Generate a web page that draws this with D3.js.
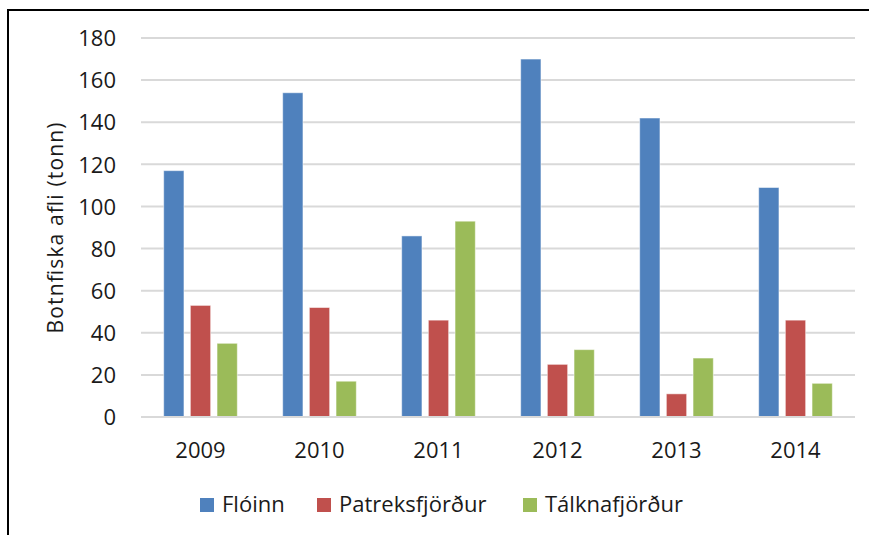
<!DOCTYPE html>
<html>
<head>
<meta charset="utf-8">
<script src="https://cdn.jsdelivr.net/npm/d3@7"></script>
<style>
  html, body { margin: 0; padding: 0; background: #fff; }
  svg { display: block; }
  text { font-family: "Open Sans", "DejaVu Sans", sans-serif; fill: #1a1a1a; }
</style>
</head>
<body>
<svg id="chart" width="869" height="535"></svg>
<script>
const years = ["2009", "2010", "2011", "2012", "2013", "2014"];
const seriesNames = ["Flóinn", "Patreksfjörður", "Tálknafjörður"];
const floinn = [117, 154, 86, 170, 142, 109];
const patreksfjordur = [53, 52, 46, 25, 11, 46];
const talknafjordur = [35, 17, 93, 32, 28, 16];
const yTicks = [0, 20, 40, 60, 80, 100, 120, 140, 160, 180];
const colors = ["#4f81bd", "#c0504d", "#9bbb59"];
const yTitle = "Botnfiska afli (tonn)";

const seriesValues = [floinn, patreksfjordur, talknafjordur];
const svg = d3.select("#chart");

// frame
svg.append("rect").attr("x", 8).attr("y", 10).attr("width", 900).attr("height", 600)
  .attr("fill", "none").attr("stroke", "#000").attr("stroke-width", 2);

const pLeft = 141, pRight = 855, pTop = 38, pBottom = 417;
const x = d3.scaleBand().domain(years).range([pLeft, pRight]).paddingInner(0).paddingOuter(0);
const xs = d3.scaleBand().domain(seriesNames).range([0, x.bandwidth()]).paddingInner(0.24).paddingOuter(0.85);
const y = d3.scaleLinear().domain([0, 180]).range([pBottom, pTop]);

// gridlines
svg.append("g").selectAll("line").data(yTicks).join("line")
  .attr("x1", pLeft).attr("x2", pRight)
  .attr("y1", d => y(d)).attr("y2", d => y(d))
  .attr("stroke", "#d9d9d9").attr("stroke-width", 2);

// y axis labels
const yAxis = d3.axisLeft(y).tickValues(yTicks).tickSize(0).tickPadding(0);
const gy = svg.append("g").attr("transform", "translate(116,0)").call(yAxis);
gy.select(".domain").remove();
gy.selectAll("text").attr("font-size", 22).attr("dy", "0.35em")
  .style("font-family", "'Open Sans', sans-serif").attr("fill", "#1a1a1a");

// bars
const groups = svg.append("g").selectAll("g").data(years).join("g")
  .attr("transform", d => `translate(${x(d)},0)`);
groups.selectAll("rect")
  .data((d, i) => seriesNames.map((s, j) => ({ s, v: seriesValues[j][i], c: colors[j] })))
  .join("rect")
  .attr("x", d => xs(d.s)).attr("width", xs.bandwidth())
  .attr("y", d => y(d.v)).attr("height", d => y(0) - y(d.v))
  .attr("fill", d => d.c)
  .attr("stroke", "rgba(255,255,255,0.5)").attr("stroke-width", 1);

// baseline
svg.append("line").attr("x1", pLeft).attr("x2", pRight).attr("y1", pBottom).attr("y2", pBottom)
  .attr("stroke", "#d9d9d9").attr("stroke-width", 2);

// x axis labels
const xAxis = d3.axisBottom(x).tickSize(0).tickPadding(0);
const gx = svg.append("g").attr("transform", `translate(0,${pBottom + 33})`).call(xAxis);
gx.select(".domain").remove();
gx.selectAll("text").attr("font-size", 22).attr("dy", "0.35em")
  .style("font-family", "'Open Sans', sans-serif").attr("fill", "#1a1a1a");

// y title
svg.append("text").attr("transform", "translate(56,228) rotate(-90)")
  .attr("text-anchor", "middle").attr("dy", "0.35em").attr("font-size", 21)
  .attr("textLength", 211).attr("lengthAdjust", "spacing").text(yTitle);

// legend
const legendX = [200, 317, 523];
const lg = svg.append("g").selectAll("g").data(seriesNames).join("g")
  .attr("transform", (d, i) => `translate(${legendX[i]},498)`);
lg.append("rect").attr("width", 14).attr("height", 14).attr("fill", (d, i) => colors[i]);
lg.append("text").attr("x", 22).attr("y", 6).attr("dy", "0.35em").attr("font-size", 22).text(d => d);
</script>
</body>
</html>
